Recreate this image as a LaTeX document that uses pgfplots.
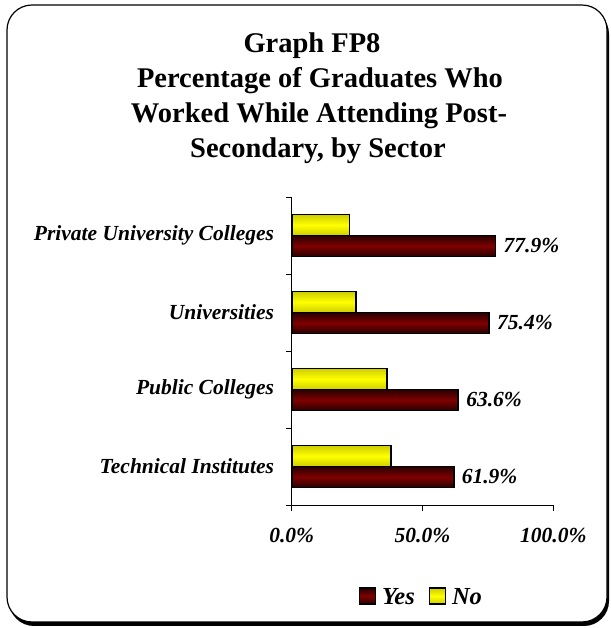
\documentclass[border=0pt]{standalone}
\usepackage{pgfplots}
\pgfplotsset{compat=1.18}
\usepackage{fontspec}
\setmainfont{Liberation Serif}
\definecolor{yesred}{RGB}{128,0,0}
\definecolor{yesedge}{RGB}{40,0,0}
\definecolor{noyellow}{RGB}{255,255,0}
\definecolor{noedge}{RGB}{205,205,0}
\newcommand{\lblfont}{\fontsize{21.5}{25}\selectfont\bfseries\itshape}
\newcommand{\legfont}{\fontsize{24.5}{28}\selectfont\bfseries\itshape}
\newcommand{\ttlfont}{\fontsize{28.5}{33}\selectfont\bfseries}
\pgfplotsset{
  yesbar/.style={xbar, bar width=21pt, bar shift=-10.5pt, draw=none,
    top color=yesedge, bottom color=yesedge, middle color=yesred, forget plot},
  nobar/.style={xbar, bar width=21pt, bar shift=10.5pt, draw=none,
    top color=noedge, bottom color=noedge, middle color=noyellow, forget plot},
}
\begin{document}
\begin{tikzpicture}
\useasboundingbox (0pt,0pt) rectangle (610pt,628pt);
\fill[black, rounded corners=25pt] (9pt,2pt) rectangle (609pt,619pt);
\draw[black, fill=white, line width=1.2pt, rounded corners=25pt] (7pt,6pt) rectangle (607pt,623pt);
\node[anchor=base, font=\ttlfont, inner sep=0pt] at (312pt,575pt) {Graph FP8};
\node[anchor=base, font=\ttlfont, inner sep=0pt] at (320pt,540pt) {Percentage of Graduates Who};
\node[anchor=base, font=\ttlfont, inner sep=0pt] at (319pt,505pt) {Worked While Attending Post-};
\node[anchor=base, font=\ttlfont, inner sep=0pt] at (318pt,470pt) {Secondary, by Sector};
\begin{axis}[
  at={(291.7pt,123pt)}, anchor=south west,
  scale only axis, width=261.6pt, height=308pt,
  xmin=0, xmax=100, ymin=-0.5, ymax=3.5,
  axis lines*=left, axis line style={-, black, line width=0.8pt},
  tick align=outside, major tick length=6pt,
  tick style={black, line width=0.8pt},
  xtick={0,50,100}, xticklabels={0.0\%,50.0\%,100.0\%},
  xticklabel style={font=\lblfont, yshift=-14pt},
  ytick={-0.5,0.5,1.5,2.5,3.5}, yticklabels={},
  extra y ticks={0,1,2,3},
  extra y tick labels={Technical Institutes, Public Colleges, Universities, Private University Colleges},
  extra y tick style={major tick length=0pt, yticklabel style={font=\lblfont, xshift=-14.2pt}},
  legend style={at={(0.496,-0.299)}, anchor=center, draw=none, fill=none,
    legend columns=2, font=\legfont,
    /tikz/every odd column/.append style={column sep=4pt},
    /tikz/every even column/.append style={column sep=12pt}},
  clip=false,
]
% shaded bars, one plot per bar so each gets its own gradient
\addplot[yesbar] coordinates {(61.9,0)};
\addplot[yesbar] coordinates {(63.6,1)};
\addplot[yesbar] coordinates {(75.4,2)};
\addplot[yesbar] coordinates {(77.9,3)};
\addplot[nobar] coordinates {(38.1,0)};
\addplot[nobar] coordinates {(36.4,1)};
\addplot[nobar] coordinates {(24.6,2)};
\addplot[nobar] coordinates {(22.1,3)};
% outlines, labels and legend entries
\addplot[xbar, bar width=21pt, bar shift=-10.5pt, draw=black, fill=none, line width=1.8pt,
  point meta=explicit symbolic, nodes near coords,
  nodes near coords align={horizontal},
  every node near coord/.append style={font=\lblfont, black, anchor=west, xshift=4pt, yshift=-10.5pt},
  legend image code/.code={\draw[black, line width=1.2pt, top color=yesedge, bottom color=yesedge, middle color=yesred] (0pt,-7pt) rectangle (16pt,9pt);\draw[black, line width=1.2pt] (0pt,-7pt) rectangle (16pt,9pt);}]
  coordinates {(61.9,0) [61.9\%] (63.6,1) [63.6\%] (75.4,2) [75.4\%] (77.9,3) [77.9\%]};
\addlegendentry{Yes}
\addplot[xbar, bar width=21pt, bar shift=10.5pt, draw=black, fill=none, line width=1.8pt,
  legend image code/.code={\draw[black, line width=1.2pt, top color=noedge, bottom color=noedge, middle color=noyellow] (0pt,-7pt) rectangle (16pt,9pt);\draw[black, line width=1.2pt] (0pt,-7pt) rectangle (16pt,9pt);}]
  coordinates {(38.1,0) (36.4,1) (24.6,2) (22.1,3)};
\addlegendentry{No}
\end{axis}
\end{tikzpicture}
\end{document}
